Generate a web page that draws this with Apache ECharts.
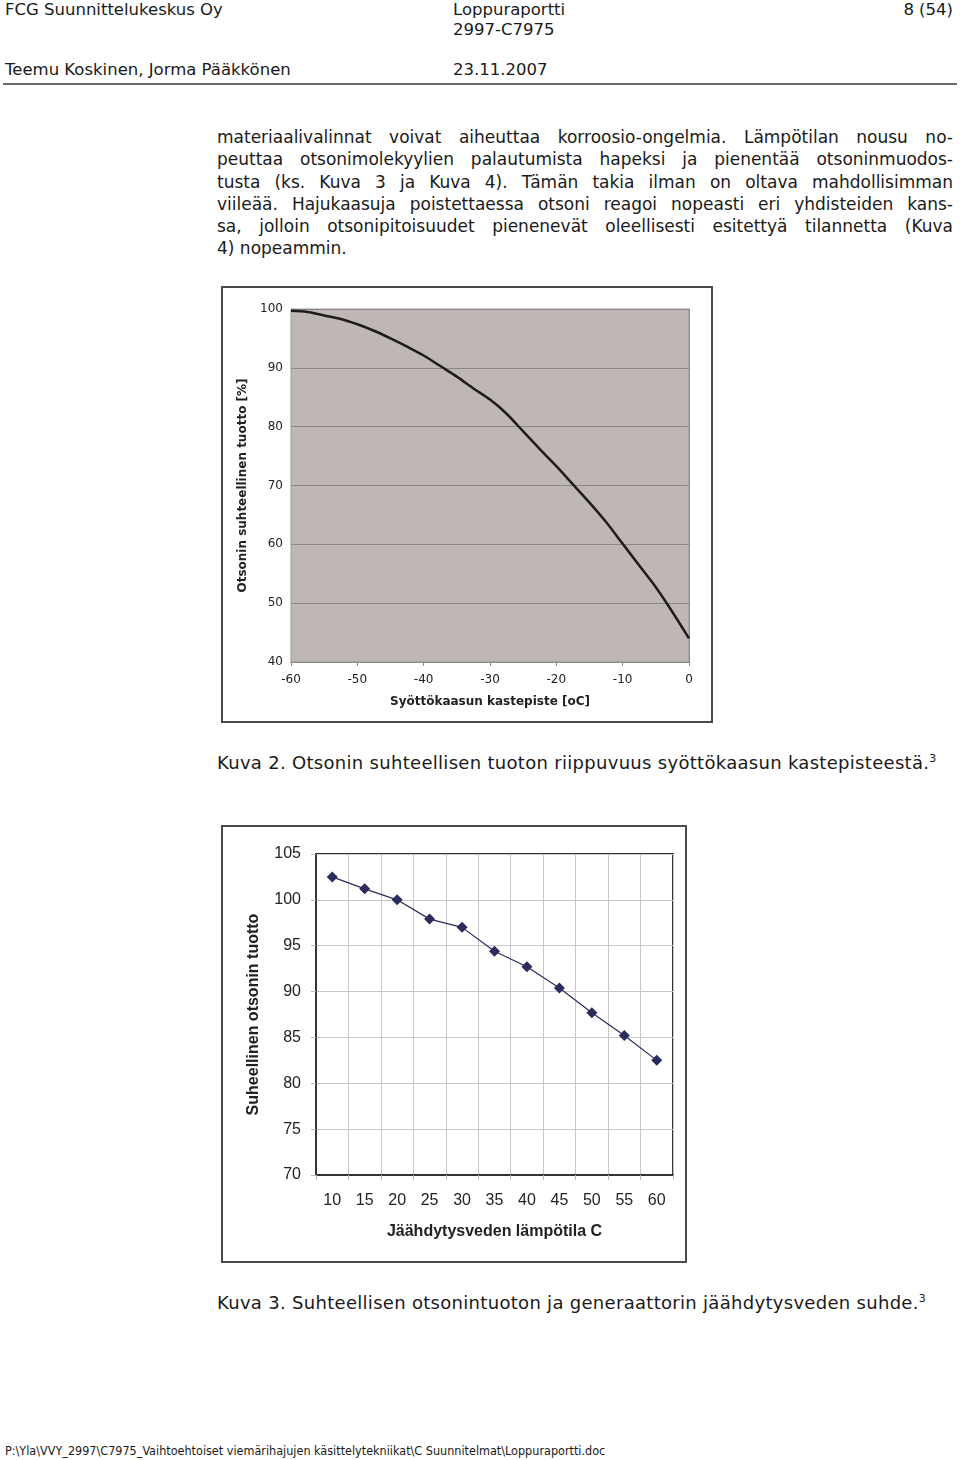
<!DOCTYPE html>
<html>
<head>
<meta charset="utf-8">
<script src="https://cdn.jsdelivr.net/npm/echarts@6/dist/echarts.min.js"></script>
<style>
  html, body { margin: 0; padding: 0; background: #fff; }
  body { width: 960px; height: 1460px; position: relative; overflow: hidden; font-family: "DejaVu Sans", sans-serif; color: #1a1a1a; }
  .t { position: absolute; white-space: nowrap; }
  .hdr { font-size: 16.5px; }
  .para { position: absolute; left: 217px; width: 736px; font-size: 17px; }
  .para div { height: 22.3px; line-height: 22.3px; white-space: nowrap; width: max-content; }
  .cap { font-size: 18px; letter-spacing: 0.3px; }
  .box { position: absolute; border: 2px solid #4a4a4a; box-sizing: border-box; background: #fff; }
</style>
</head>
<body>
<div class="t hdr" style="left:5px;top:0px;">FCG Suunnittelukeskus Oy</div>
<div class="t hdr" style="left:453px;top:0px;">Loppuraportti</div>
<div class="t hdr" style="left:453px;top:20px;">2997-C7975</div>
<div class="t hdr" style="right:7px;top:0px;">8 (54)</div>
<div class="t hdr" style="left:5px;top:60px;">Teemu Koskinen, Jorma Pääkkönen</div>
<div class="t hdr" style="left:453px;top:60px;">23.11.2007</div>
<div style="position:absolute;left:3px;top:83px;width:954px;height:2px;background:#6a6a6a;"></div>

<div class="para" id="para" style="top:126px;">
  <div class="j">materiaalivalinnat voivat aiheuttaa korroosio-ongelmia. Lämpötilan nousu no-</div>
  <div class="j">peuttaa otsonimolekyylien palautumista hapeksi ja pienentää otsoninmuodos-</div>
  <div class="j">tusta (ks. Kuva 3 ja Kuva 4). Tämän takia ilman on oltava mahdollisimman</div>
  <div class="j">viileää. Hajukaasuja poistettaessa otsoni reagoi nopeasti eri yhdisteiden kans-</div>
  <div class="j">sa, jolloin otsonipitoisuudet pienenevät oleellisesti esitettyä tilannetta (Kuva</div>
  <div>4) nopeammin.</div>
</div>

<div class="box" id="c1" style="left:221px;top:286px;width:492px;height:437px;"></div>
<div class="t cap" style="left:217px;top:752px;">Kuva 2. Otsonin suhteellisen tuoton riippuvuus syöttökaasun kastepisteestä.<sup style="font-size:11px;vertical-align:7px;line-height:0;">3</sup></div>

<div class="box" id="c2" style="left:221px;top:825px;width:466px;height:438px;"></div>
<div class="t cap" style="left:217px;top:1292px;">Kuva 3. Suhteellisen otsonintuoton ja generaattorin jäähdytysveden suhde.<sup style="font-size:11px;vertical-align:7px;line-height:0;">3</sup></div>

<div class="t" style="left:5px;top:1443px;font-size:12.5px;font-family:'DejaVu Sans Condensed','DejaVu Sans',sans-serif;">P:\Yla\VVY_2997\C7975_Vaihtoehtoiset viemärihajujen käsittelytekniikat\C Suunnitelmat\Loppuraportti.doc</div>

<script>
// ---- Chart 1 data: dew point [oC] vs relative ozone yield [%]
const dewPoint = [-60, -57.5, -55, -52.5, -50, -47.5, -45, -42.5, -40, -37.5, -35, -32.5, -30, -27.5, -25, -22.5, -20, -17.5, -15, -12.5, -10, -7.5, -5, -2.5, 0];
const relYield = [99.7, 99.5, 98.9, 98.3, 97.4, 96.3, 95.0, 93.6, 92.1, 90.3, 88.5, 86.5, 84.6, 82.2, 79.2, 76.2, 73.3, 70.2, 67.1, 63.8, 60.1, 56.4, 52.7, 48.5, 44.0];

// ---- Chart 2 data: cooling water temperature vs relative ozone yield
const waterTemp = ['10', '15', '20', '25', '30', '35', '40', '45', '50', '55', '60'];
const ozoneYield = [102.5, 101.2, 100.0, 97.9, 97.0, 94.4, 92.7, 90.4, 87.7, 85.2, 82.5];

// justify paragraph lines to exact width
document.querySelectorAll('#para .j').forEach(function (el) {
  const target = 736;
  const w = el.getBoundingClientRect().width;
  const gaps = (el.textContent.trim().match(/ /g) || []).length;
  if (gaps > 0) el.style.wordSpacing = ((target - w) / gaps) + 'px';
});

const c1 = echarts.init(document.getElementById('c1'));
c1.setOption({
  animation: false,
  grid: { left: 68, right: 22, top: 21, bottom: 59, show: true, backgroundColor: '#bfb7b4', borderColor: '#9a9a9a', borderWidth: 1 },
  xAxis: {
    type: 'value', min: -60, max: 0, interval: 10,
    name: 'Syöttökaasun kastepiste [oC]', nameLocation: 'middle', nameGap: 34,
    nameTextStyle: { fontFamily: 'DejaVu Sans', fontWeight: 'bold', fontSize: 12, color: '#222' },
    axisLine: { lineStyle: { color: '#8a8a8a', width: 1 } },
    axisTick: { show: true, inside: false, length: 4, lineStyle: { color: '#8a8a8a' } },
    axisLabel: { fontFamily: 'DejaVu Sans', fontSize: 12, color: '#222', margin: 12 },
    splitLine: { show: false }
  },
  yAxis: {
    type: 'value', min: 40, max: 100, interval: 10,
    name: 'Otsonin suhteellinen tuotto [%]', nameLocation: 'middle', nameGap: 34,
    nameTextStyle: { fontFamily: 'DejaVu Sans', fontWeight: 'bold', fontSize: 12, color: '#222' },
    axisLine: { show: true, lineStyle: { color: '#8a8a8a', width: 1 } },
    axisTick: { show: true, length: 4, lineStyle: { color: '#8a8a8a' } },
    axisLabel: { fontFamily: 'DejaVu Sans', fontSize: 12, color: '#222', margin: 8 },
    splitLine: { show: true, lineStyle: { color: '#8c8685', width: 1 } }
  },
  series: [{
    type: 'line', data: dewPoint.map((x, i) => [x, relYield[i]]),
    smooth: 0.3, showSymbol: false, lineStyle: { color: '#1e1c1c', width: 2.5 }
  }]
});

const c2 = echarts.init(document.getElementById('c2'));
c2.setOption({
  animation: false,
  grid: { left: 93, right: 12, top: 27, bottom: 86, show: true, backgroundColor: '#fff', borderColor: '#333', borderWidth: 2 },
  xAxis: {
    type: 'category', data: waterTemp, boundaryGap: true,
    name: 'Jäähdytysveden lämpötila C', nameLocation: 'middle', nameGap: 49,
    nameTextStyle: { fontFamily: 'Liberation Sans', fontWeight: 'bold', fontSize: 16, color: '#222' },
    axisLine: { lineStyle: { color: '#333', width: 2 } },
    axisTick: { show: true, length: 5, alignWithLabel: false, lineStyle: { color: '#bbb' } },
    axisLabel: { fontFamily: 'Liberation Sans', fontSize: 16, color: '#222', margin: 18 },
    splitLine: { show: true, lineStyle: { color: '#c8c8c8', width: 1 } }
  },
  yAxis: {
    type: 'value', min: 70, max: 105, interval: 5,
    name: 'Suheellinen otsonin tuotto', nameLocation: 'middle', nameGap: 54,
    nameTextStyle: { fontFamily: 'Liberation Sans', fontWeight: 'bold', fontSize: 16, color: '#222' },
    axisLine: { show: true, lineStyle: { color: '#333', width: 2 } },
    axisTick: { show: true, length: 5, lineStyle: { color: '#bbb' } },
    axisLabel: { fontFamily: 'Liberation Sans', fontSize: 16, color: '#222', margin: 15 },
    splitLine: { show: true, lineStyle: { color: '#c8c8c8', width: 1 } }
  },
  series: [{
    type: 'line', data: ozoneYield,
    symbol: 'diamond', symbolSize: 11, showSymbol: true,
    itemStyle: { color: '#2b2b5c' },
    lineStyle: { color: '#2b2b5c', width: 1.2 }
  }]
});
</script>
</body>
</html>
